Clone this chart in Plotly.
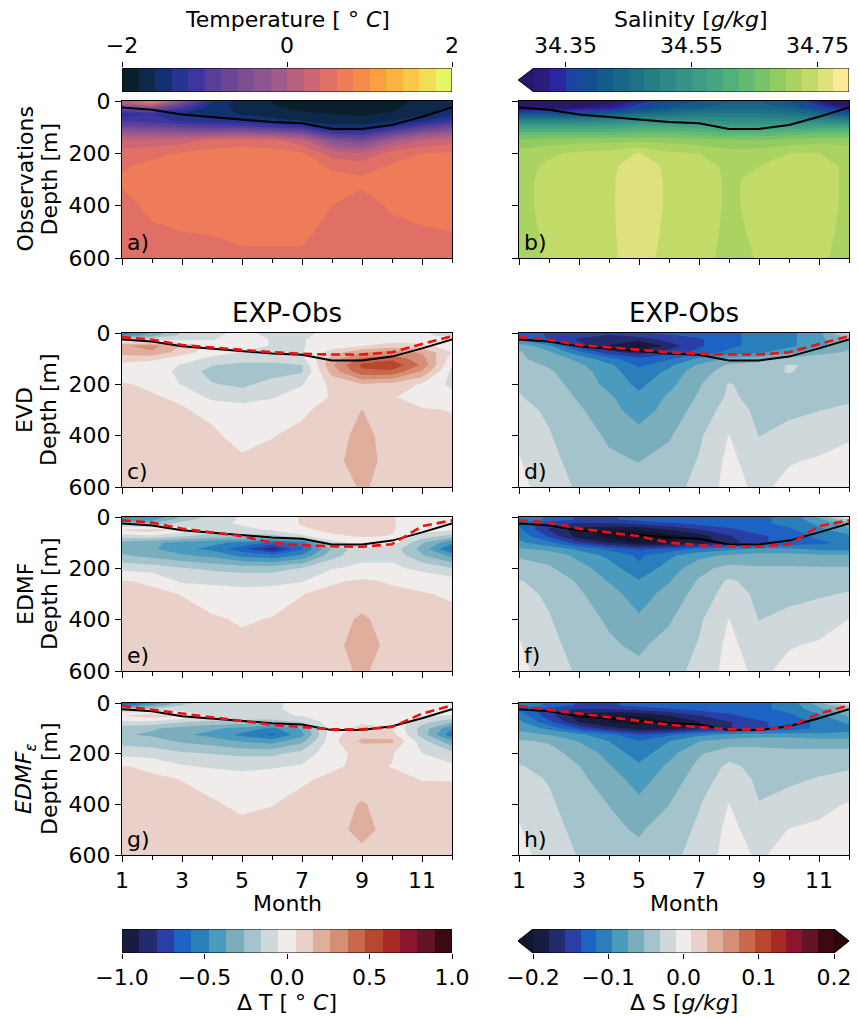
import numpy as np
import plotly.graph_objects as go

W, H = 858, 1018
FONT = "DejaVu Sans"

months = list(range(1, 13))
depths = [0, 10, 25, 50, 75, 100, 125, 150, 200, 250, 300, 400, 500, 600]

# mixed layer depth [m] per month
mld_obs = [25, 33, 52, 62, 72, 80, 85, 107, 107, 92, 60, 25]
mld_evd = [16, 26, 47, 57, 67, 75, 81, 84, 84, 75, 43, 12]
mld_edmf = [13, 22, 45, 60, 75, 100, 110, 114, 116, 106, 36, 13]
mld_edmfe = [12, 26, 42, 55, 71, 86, 95, 104, 104, 95, 42, 9]

# observed temperature [deg C], rows = depths, columns = months
temp_obs = [
    [0.05, 0.65, -0.45, -1.35, -1.68, -1.80, -1.85, -1.85, -1.85, -1.85, -1.75, -1.55],
    [0.00, 0.50, -0.65, -1.45, -1.70, -1.80, -1.85, -1.85, -1.85, -1.85, -1.75, -1.60],
    [-0.60, -0.40, -1.00, -1.50, -1.68, -1.78, -1.83, -1.85, -1.85, -1.83, -1.72, -1.60],
    [-1.30, -1.20, -1.40, -1.50, -1.62, -1.72, -1.78, -1.80, -1.82, -1.78, -1.62, -1.45],
    [-1.00, -1.10, -1.25, -1.35, -1.40, -1.50, -1.60, -1.72, -1.75, -1.62, -1.40, -1.15],
    [-0.60, -0.70, -0.80, -0.85, -0.90, -1.00, -1.15, -1.50, -1.50, -1.25, -0.90, -0.65],
    [-0.10, -0.15, -0.20, -0.20, -0.15, -0.25, -0.45, -1.00, -1.10, -0.70, -0.30, -0.10],
    [0.25, 0.25, 0.30, 0.45, 0.50, 0.45, 0.25, -0.40, -0.60, -0.10, 0.20, 0.30],
    [0.50, 0.55, 0.62, 0.68, 0.70, 0.68, 0.63, 0.30, 0.20, 0.50, 0.60, 0.63],
    [0.58, 0.65, 0.70, 0.74, 0.76, 0.75, 0.72, 0.57, 0.52, 0.63, 0.67, 0.70],
    [0.62, 0.70, 0.74, 0.77, 0.78, 0.77, 0.75, 0.66, 0.63, 0.68, 0.72, 0.74],
    [0.56, 0.63, 0.68, 0.71, 0.74, 0.73, 0.70, 0.60, 0.55, 0.62, 0.66, 0.68],
    [0.50, 0.58, 0.60, 0.61, 0.66, 0.65, 0.64, 0.54, 0.50, 0.56, 0.58, 0.60],
    [0.47, 0.52, 0.53, 0.54, 0.55, 0.56, 0.57, 0.50, 0.47, 0.50, 0.52, 0.53],
]

# observed salinity [g/kg]
salt_obs = [
    [34.20, 34.22, 34.25, 34.28, 34.33, 34.38, 34.40, 34.42, 34.42, 34.40, 34.32, 34.22],
    [34.22, 34.24, 34.27, 34.30, 34.35, 34.39, 34.41, 34.43, 34.43, 34.41, 34.34, 34.24],
    [34.28, 34.28, 34.30, 34.32, 34.37, 34.40, 34.42, 34.44, 34.44, 34.42, 34.37, 34.30],
    [34.40, 34.40, 34.40, 34.42, 34.45, 34.47, 34.48, 34.48, 34.48, 34.47, 34.44, 34.40],
    [34.50, 34.50, 34.50, 34.51, 34.52, 34.53, 34.53, 34.52, 34.52, 34.52, 34.51, 34.50],
    [34.58, 34.58, 34.58, 34.58, 34.60, 34.60, 34.59, 34.57, 34.57, 34.58, 34.59, 34.59],
    [34.64, 34.64, 34.64, 34.64, 34.65, 34.65, 34.64, 34.63, 34.63, 34.64, 34.65, 34.65],
    [34.68, 34.685, 34.69, 34.69, 34.695, 34.69, 34.685, 34.68, 34.675, 34.685, 34.69, 34.69],
    [34.71, 34.72, 34.73, 34.735, 34.752, 34.73, 34.725, 34.71, 34.715, 34.725, 34.725, 34.715],
    [34.715, 34.73, 34.74, 34.745, 34.762, 34.745, 34.735, 34.72, 34.725, 34.735, 34.735, 34.72],
    [34.715, 34.735, 34.74, 34.745, 34.768, 34.745, 34.735, 34.722, 34.73, 34.737, 34.735, 34.72],
    [34.715, 34.735, 34.74, 34.745, 34.77, 34.745, 34.735, 34.722, 34.73, 34.737, 34.735, 34.72],
    [34.712, 34.732, 34.74, 34.745, 34.766, 34.743, 34.733, 34.721, 34.728, 34.735, 34.733, 34.718],
    [34.71, 34.73, 34.738, 34.745, 34.762, 34.74, 34.731, 34.72, 34.726, 34.733, 34.73, 34.715],
]

# temperature bias EXP - Obs [deg C]
dT_evd = [
    [-0.55, -0.35, -0.15, -0.10, 0.00, -0.10, -0.10, 0.00, 0.00, 0.00, -0.03, -0.12],
    [-0.45, -0.30, -0.12, -0.08, 0.00, -0.08, -0.08, 0.00, 0.00, 0.00, -0.02, -0.10],
    [-0.10, -0.10, -0.08, -0.06, 0.00, -0.06, -0.06, 0.00, 0.00, 0.00, 0.00, 0.00],
    [0.25, 0.30, 0.15, 0.00, 0.00, -0.06, -0.06, 0.00, 0.05, 0.10, 0.08, 0.00],
    [0.20, 0.25, 0.10, 0.00, -0.06, -0.08, -0.06, 0.10, 0.25, 0.30, 0.25, 0.05],
    [0.10, 0.08, 0.00, -0.08, -0.10, -0.10, -0.08, 0.20, 0.40, 0.45, 0.30, 0.00],
    [0.02, 0.00, -0.06, -0.15, -0.20, -0.20, -0.16, 0.25, 0.50, 0.55, 0.35, -0.05],
    [0.00, 0.00, -0.08, -0.20, -0.22, -0.20, -0.17, 0.20, 0.45, 0.45, 0.25, -0.08],
    [0.06, 0.04, -0.06, -0.15, -0.18, -0.12, -0.06, 0.08, 0.15, 0.12, 0.04, -0.08],
    [0.07, 0.06, 0.04, -0.08, -0.10, -0.06, 0.00, 0.06, 0.08, 0.06, 0.02, -0.02],
    [0.08, 0.07, 0.06, 0.03, 0.00, 0.00, 0.04, 0.08, 0.16, 0.08, 0.06, 0.05],
    [0.09, 0.08, 0.07, 0.07, 0.02, 0.05, 0.07, 0.10, 0.20, 0.10, 0.08, 0.07],
    [0.10, 0.10, 0.09, 0.08, 0.07, 0.07, 0.09, 0.13, 0.20, 0.12, 0.10, 0.09],
    [0.10, 0.10, 0.10, 0.10, 0.10, 0.10, 0.10, 0.10, 0.17, 0.12, 0.10, 0.10],
]

dT_edmf = [
    [-0.50, -0.45, -0.25, -0.12, -0.04, 0.00, 0.06, 0.07, 0.07, 0.06, 0.00, 0.00],
    [-0.45, -0.40, -0.20, -0.10, -0.04, 0.00, 0.06, 0.07, 0.07, 0.06, 0.00, 0.00],
    [-0.20, -0.25, -0.12, -0.08, -0.04, 0.00, 0.06, 0.07, 0.07, 0.06, 0.00, 0.00],
    [0.06, 0.12, 0.02, -0.08, -0.08, -0.04, 0.04, 0.07, 0.08, 0.06, 0.00, -0.05],
    [-0.10, -0.08, -0.15, -0.20, -0.20, -0.20, -0.08, 0.04, 0.06, 0.05, -0.10, -0.20],
    [-0.30, -0.35, -0.40, -0.45, -0.50, -0.60, -0.55, -0.10, 0.00, 0.00, -0.25, -0.45],
    [-0.30, -0.35, -0.45, -0.50, -0.65, -0.85, -0.60, -0.25, -0.08, -0.10, -0.30, -0.60],
    [-0.25, -0.30, -0.35, -0.40, -0.50, -0.55, -0.45, -0.20, -0.08, -0.08, -0.25, -0.40],
    [-0.08, -0.10, -0.15, -0.18, -0.20, -0.20, -0.15, -0.06, -0.03, -0.03, -0.08, -0.15],
    [0.06, 0.04, -0.07, -0.07, -0.08, -0.08, -0.06, 0.04, 0.07, 0.04, 0.02, 0.00],
    [0.08, 0.07, 0.05, -0.01, -0.02, -0.01, 0.05, 0.08, 0.09, 0.08, 0.06, 0.04],
    [0.09, 0.09, 0.08, 0.07, 0.04, 0.06, 0.08, 0.10, 0.18, 0.10, 0.09, 0.08],
    [0.10, 0.10, 0.10, 0.09, 0.08, 0.09, 0.10, 0.13, 0.20, 0.13, 0.10, 0.10],
    [0.10, 0.10, 0.10, 0.10, 0.10, 0.10, 0.10, 0.13, 0.17, 0.12, 0.10, 0.10],
]

dT_edmfe = [
    [-0.70, -0.45, -0.20, -0.10, -0.06, -0.06, -0.04, 0.00, 0.00, 0.00, 0.00, 0.00],
    [-0.55, -0.35, -0.15, -0.08, -0.06, -0.06, -0.04, 0.00, 0.00, 0.00, 0.00, 0.00],
    [-0.15, -0.15, -0.10, -0.07, -0.06, -0.06, -0.04, 0.00, 0.00, 0.00, 0.00, 0.00],
    [0.05, 0.12, 0.06, -0.06, -0.08, -0.06, -0.05, 0.00, 0.02, 0.00, -0.04, -0.06],
    [-0.08, -0.08, -0.15, -0.18, -0.20, -0.22, -0.15, 0.00, 0.04, 0.02, -0.12, -0.25],
    [-0.22, -0.25, -0.30, -0.35, -0.40, -0.50, -0.35, 0.00, 0.08, 0.05, -0.20, -0.45],
    [-0.25, -0.28, -0.35, -0.40, -0.50, -0.60, -0.40, 0.02, 0.12, 0.10, -0.20, -0.55],
    [-0.20, -0.22, -0.28, -0.32, -0.38, -0.42, -0.30, 0.02, 0.18, 0.18, -0.12, -0.35],
    [-0.08, -0.10, -0.14, -0.16, -0.18, -0.18, -0.12, 0.02, 0.08, 0.06, -0.05, -0.12],
    [0.06, 0.03, -0.04, -0.07, -0.08, -0.07, -0.04, 0.04, 0.07, 0.05, 0.02, -0.03],
    [0.08, 0.07, 0.05, 0.03, -0.01, 0.02, 0.04, 0.07, 0.08, 0.07, 0.05, 0.05],
    [0.09, 0.09, 0.08, 0.06, 0.04, 0.05, 0.08, 0.10, 0.17, 0.10, 0.09, 0.08],
    [0.10, 0.10, 0.10, 0.09, 0.07, 0.08, 0.10, 0.12, 0.19, 0.12, 0.10, 0.10],
    [0.10, 0.10, 0.10, 0.10, 0.10, 0.10, 0.10, 0.11, 0.13, 0.11, 0.10, 0.10],
]

# salinity bias EXP - Obs [g/kg]
dS_evd = [
    [-0.12, -0.14, -0.15, -0.15, -0.14, -0.13, -0.12, -0.12, -0.11, -0.10, -0.08, -0.02],
    [-0.12, -0.14, -0.15, -0.16, -0.15, -0.14, -0.13, -0.12, -0.11, -0.10, -0.08, -0.04],
    [-0.10, -0.14, -0.16, -0.17, -0.17, -0.15, -0.14, -0.12, -0.11, -0.10, -0.08, -0.05],
    [-0.06, -0.09, -0.15, -0.18, -0.21, -0.17, -0.14, -0.12, -0.11, -0.10, -0.08, -0.06],
    [-0.05, -0.07, -0.11, -0.15, -0.17, -0.15, -0.13, -0.11, -0.10, -0.08, -0.06, -0.05],
    [-0.05, -0.06, -0.08, -0.11, -0.13, -0.12, -0.09, -0.07, -0.06, -0.05, -0.04, -0.05],
    [-0.045, -0.055, -0.07, -0.09, -0.12, -0.10, -0.07, -0.05, -0.045, -0.03, -0.035, -0.045],
    [-0.04, -0.05, -0.065, -0.085, -0.11, -0.09, -0.06, -0.045, -0.04, -0.03, -0.04, -0.045],
    [-0.035, -0.045, -0.06, -0.08, -0.10, -0.08, -0.055, -0.03, -0.04, -0.04, -0.04, -0.04],
    [-0.03, -0.04, -0.055, -0.07, -0.09, -0.07, -0.05, -0.028, -0.038, -0.04, -0.038, -0.035],
    [-0.025, -0.035, -0.05, -0.065, -0.085, -0.065, -0.045, -0.022, -0.036, -0.036, -0.032, -0.028],
    [-0.015, -0.03, -0.045, -0.055, -0.065, -0.055, -0.035, -0.01, -0.032, -0.025, -0.02, -0.012],
    [-0.009, -0.025, -0.04, -0.05, -0.053, -0.045, -0.03, -0.005, -0.022, -0.012, -0.008, -0.006],
    [-0.005, -0.02, -0.035, -0.045, -0.045, -0.04, -0.025, -0.003, -0.015, -0.005, -0.004, -0.004],
]

dS_edmf = [
    [-0.10, -0.12, -0.14, -0.14, -0.13, -0.12, -0.12, -0.12, -0.12, -0.11, -0.07, 0.01],
    [-0.10, -0.12, -0.14, -0.14, -0.13, -0.12, -0.12, -0.12, -0.12, -0.11, -0.08, -0.03],
    [-0.12, -0.15, -0.16, -0.16, -0.15, -0.14, -0.13, -0.13, -0.12, -0.11, -0.09, -0.06],
    [-0.11, -0.16, -0.19, -0.20, -0.20, -0.18, -0.16, -0.14, -0.13, -0.12, -0.10, -0.08],
    [-0.10, -0.14, -0.19, -0.21, -0.22, -0.21, -0.19, -0.16, -0.14, -0.13, -0.11, -0.10],
    [-0.09, -0.11, -0.15, -0.18, -0.20, -0.20, -0.19, -0.17, -0.14, -0.13, -0.12, -0.11],
    [-0.07, -0.08, -0.10, -0.12, -0.14, -0.13, -0.11, -0.10, -0.09, -0.09, -0.10, -0.10],
    [-0.055, -0.06, -0.08, -0.10, -0.12, -0.10, -0.08, -0.07, -0.065, -0.065, -0.07, -0.07],
    [-0.045, -0.05, -0.065, -0.085, -0.11, -0.085, -0.06, -0.045, -0.05, -0.05, -0.05, -0.05],
    [-0.03, -0.04, -0.055, -0.075, -0.093, -0.075, -0.05, -0.028, -0.04, -0.045, -0.042, -0.038],
    [-0.025, -0.035, -0.05, -0.065, -0.085, -0.065, -0.045, -0.022, -0.036, -0.038, -0.034, -0.03],
    [-0.015, -0.03, -0.045, -0.055, -0.07, -0.055, -0.035, -0.01, -0.032, -0.025, -0.02, -0.01],
    [-0.009, -0.025, -0.04, -0.05, -0.056, -0.045, -0.03, -0.005, -0.022, -0.012, -0.008, -0.006],
    [-0.005, -0.02, -0.035, -0.045, -0.048, -0.04, -0.025, -0.003, -0.015, -0.005, -0.004, -0.004],
]

dS_edmfe = [
    [-0.10, -0.12, -0.14, -0.14, -0.13, -0.12, -0.12, -0.12, -0.12, -0.11, -0.06, 0.01],
    [-0.10, -0.12, -0.14, -0.14, -0.13, -0.12, -0.12, -0.12, -0.12, -0.11, -0.07, -0.03],
    [-0.12, -0.15, -0.16, -0.16, -0.15, -0.14, -0.13, -0.13, -0.12, -0.11, -0.08, -0.05],
    [-0.10, -0.15, -0.19, -0.20, -0.20, -0.18, -0.16, -0.14, -0.13, -0.12, -0.10, -0.07],
    [-0.09, -0.13, -0.18, -0.20, -0.21, -0.20, -0.18, -0.16, -0.14, -0.13, -0.11, -0.09],
    [-0.08, -0.10, -0.14, -0.17, -0.19, -0.19, -0.17, -0.16, -0.14, -0.13, -0.11, -0.10],
    [-0.065, -0.075, -0.09, -0.11, -0.135, -0.12, -0.10, -0.09, -0.085, -0.085, -0.09, -0.09],
    [-0.05, -0.055, -0.075, -0.095, -0.115, -0.095, -0.075, -0.065, -0.06, -0.06, -0.065, -0.065],
    [-0.04, -0.045, -0.06, -0.08, -0.105, -0.08, -0.055, -0.04, -0.045, -0.048, -0.045, -0.045],
    [-0.03, -0.038, -0.052, -0.072, -0.09, -0.07, -0.048, -0.027, -0.038, -0.042, -0.038, -0.034],
    [-0.025, -0.033, -0.048, -0.063, -0.083, -0.063, -0.043, -0.021, -0.035, -0.036, -0.03, -0.026],
    [-0.015, -0.028, -0.043, -0.053, -0.068, -0.053, -0.033, -0.01, -0.031, -0.022, -0.016, -0.009],
    [-0.009, -0.023, -0.038, -0.048, -0.055, -0.043, -0.028, -0.005, -0.02, -0.01, -0.007, -0.005],
    [-0.005, -0.018, -0.033, -0.043, -0.047, -0.038, -0.023, -0.003, -0.013, -0.004, -0.003, -0.003],
]

# discrete palettes (one colour per filled band)
thermal = ["#0a1f2c", "#0d2849", "#133073", "#25348f", "#3f35a0", "#583f9a", "#6a4794",
           "#7c4f91", "#8e5590", "#a05b8d", "#b8607f", "#cc6675", "#e06f66", "#ee7c58",
           "#f68c4a", "#fa9f42", "#fbb33f", "#f9c84a", "#f2de55", "#e5f566"]
haline_under = "#29186a"
haline = ["#2d1c7e", "#2b27a2", "#1f43a0", "#134e92", "#145b8a", "#186788", "#1f7286",
          "#277d86", "#2e8887", "#359286", "#3c9c84", "#45a782", "#52b07b", "#62ba73",
          "#78c36a", "#92cb62", "#aad362", "#c2da68", "#dde27e", "#faea9a"]
balance = ["#181c43", "#232b6d", "#2a3fa6", "#1d63c4", "#2a7fbb", "#4b9bbf", "#7aaebd",
           "#a4c3cc", "#cfd9dc", "#f0eceb", "#e9d0c8", "#e0ae9d", "#d58f76", "#c8694d",
           "#b84730", "#a72a27", "#8b152f", "#631526", "#3c0911"]
balance_under = "#121531"
balance_over = "#2c060c"

SPEC_T = dict(start=-2.0, end=2.0, size=0.2, under=thermal[0], bands=thermal, over=thermal[-1])
SPEC_S = dict(start=34.30, end=34.80, size=0.025, under=haline_under, bands=haline, over=haline[-1])
SPEC_DT = dict(start=-1.0, end=1.0, size=2.0 / 19, under=balance[0], bands=balance, over=balance[-1])
SPEC_DS = dict(start=-0.2, end=0.2, size=0.4 / 19, under=balance_under, bands=balance, over=balance_over)


def n_levels(spec):
    return int(np.floor((spec["end"] + spec["size"] / 1e6 - spec["start"]) / spec["size"])) + 1


def fill_colorscale(spec):
    # plotly colours the region below the first level at 0 and band k at k/nc
    nc = n_levels(spec)
    cols = [spec["under"]] + list(spec["bands"]) + [spec["over"]]
    assert len(cols) == nc + 1, (len(cols), nc)
    return [[k / nc, c] for k, c in enumerate(cols)]


# page geometry in pixels
COLS = [(122, 452), (519, 849)]
ROWS = [(101, 258), (333, 487), (517, 671), (703, 855)]

panels = [
    (0, 0, temp_obs, SPEC_T, None, "a)"),
    (0, 1, salt_obs, SPEC_S, None, "b)"),
    (1, 0, dT_evd, SPEC_DT, mld_evd, "c)"),
    (1, 1, dS_evd, SPEC_DS, mld_evd, "d)"),
    (2, 0, dT_edmf, SPEC_DT, mld_edmf, "e)"),
    (2, 1, dS_edmf, SPEC_DS, mld_edmf, "f)"),
    (3, 0, dT_edmfe, SPEC_DT, mld_edmfe, "g)"),
    (3, 1, dS_edmfe, SPEC_DS, mld_edmfe, "h)"),
]

row_names = ["Observations", "EVD", "EDMF", "<i>EDMF<sub>ε</sub></i>"]


def ax_name(kind, i):
    return kind + ("axis" if i == 1 else f"axis{i}")


def ax_ref(kind, i):
    return kind if i == 1 else f"{kind}{i}"


fig = go.Figure()
layout = dict(
    width=W, height=H, margin=dict(l=0, r=0, t=0, b=0, autoexpand=False),
    paper_bgcolor="white", plot_bgcolor="white", showlegend=False,
    font=dict(family=FONT, size=22, color="black"),
)
annotations = []
shapes = []


def ann(text, xpx, ypx, size=22, angle=0, xanchor="center", yanchor="middle"):
    annotations.append(dict(
        text=text, x=xpx / W, y=1 - ypx / H, xref="paper", yref="paper",
        showarrow=False, textangle=angle, xanchor=xanchor, yanchor=yanchor,
        font=dict(family=FONT, size=size, color="black"),
    ))


for idx, (r, c, z, spec, mld_exp, letter) in enumerate(panels, start=1):
    x0, x1 = COLS[c]
    y0, y1 = ROWS[r]
    xr, yr = ax_ref("x", idx), ax_ref("y", idx)
    fig.add_trace(go.Contour(
        x=months, y=depths, z=z, xaxis=xr, yaxis=yr,
        autocontour=False,
        contours=dict(start=spec["start"], end=spec["end"], size=spec["size"],
                      coloring="fill", showlines=False),
        colorscale=fill_colorscale(spec), showscale=False,
        line=dict(width=0, smoothing=0), hoverinfo="skip",
    ))
    fig.add_trace(go.Scatter(
        x=months, y=mld_obs, xaxis=xr, yaxis=yr, mode="lines",
        line=dict(color="black", width=2), hoverinfo="skip",
    ))
    if mld_exp is not None:
        fig.add_trace(go.Scatter(
            x=months, y=mld_exp, xaxis=xr, yaxis=yr, mode="lines",
            line=dict(color="#ee1111", width=2.6, dash="9px,5px"), hoverinfo="skip",
        ))
    layout[ax_name("x", idx)] = dict(
        domain=[x0 / W, x1 / W], range=[1, 12], anchor=yr, automargin=False,
        tickvals=[1, 3, 5, 7, 9, 11], ticks="outside", ticklen=6, tickwidth=1,
        tickcolor="black", showticklabels=(r == 3), tickfont=dict(size=22),
        minor=dict(tickvals=[2, 4, 6, 8, 10, 12], ticks="outside", ticklen=3.5,
                   tickwidth=1, tickcolor="black", showgrid=False),
        showline=True, mirror=True, linecolor="black", linewidth=1,
        showgrid=False, zeroline=False, fixedrange=True,
    )
    layout[ax_name("y", idx)] = dict(
        domain=[1 - y1 / H, 1 - y0 / H], range=[600, 0], anchor=xr, automargin=False,
        tickvals=[0, 200, 400, 600], ticks="outside", ticklen=6, tickwidth=1,
        tickcolor="black", showticklabels=(c == 0), tickfont=dict(size=22),
        showline=True, mirror=True, linecolor="black", linewidth=1,
        showgrid=False, zeroline=False, fixedrange=True,
    )
    ann(letter, x0 + 3, y1 - 1, xanchor="left", yanchor="bottom")

# row labels on the left
for r, name in enumerate(row_names):
    ymid = (ROWS[r][0] + ROWS[r][1]) / 2
    ann(name, 25, ymid, angle=-90)
    ann("Depth [m]", 49, ymid, angle=-90)

for c in range(2):
    xmid = (COLS[c][0] + COLS[c][1]) / 2
    ann("EXP-Obs", xmid, 313, size=26)
    ann("Month", xmid, 903)


# colour bars drawn as heatmaps on their own axes
def colour_bar(i, spec, px_box, side, tickvals, ticktext, extend_lo=False, extend_hi=False):
    bx0, bx1, by0, by1 = px_box
    lo, hi = spec["start"], spec["end"]
    span = hi - lo
    ext = 0.05 * span
    rlo = lo - ext if extend_lo else lo
    rhi = hi + ext if extend_hi else hi
    scale = (bx1 - bx0) / span
    dx0 = bx0 - (lo - rlo) * scale
    dx1 = bx1 + (rhi - hi) * scale
    bands = spec["bands"]
    n = len(bands)
    edges = list(np.linspace(lo, hi, n + 1))
    xr, yr = ax_ref("x", i), ax_ref("y", i)
    fig.add_trace(go.Heatmap(
        x=edges, y=[0, 1], z=[list(range(n))], xaxis=xr, yaxis=yr,
        colorscale=[[k / (n - 1), col] for k, col in enumerate(bands)],
        zmin=0, zmax=n - 1, showscale=False, hoverinfo="skip",
    ))
    path = f"M{lo},0 L{hi},0 "
    if extend_hi:
        fig.add_trace(go.Scatter(
            x=[hi, rhi, hi, hi], y=[0, 0.5, 1, 0], xaxis=xr, yaxis=yr, mode="lines",
            fill="toself", fillcolor=spec["over"], line=dict(width=0.5, color=spec["over"]),
            hoverinfo="skip",
        ))
        path += f"L{rhi},0.5 "
    path += f"L{hi},1 L{lo},1 "
    if extend_lo:
        fig.add_trace(go.Scatter(
            x=[lo, rlo, lo, lo], y=[0, 0.5, 1, 0], xaxis=xr, yaxis=yr, mode="lines",
            fill="toself", fillcolor=spec["under"], line=dict(width=0.5, color=spec["under"]),
            hoverinfo="skip",
        ))
        path += f"L{rlo},0.5 "
    path += "Z"
    shapes.append(dict(type="path", path=path, xref=xr, yref=yr,
                       line=dict(color="black", width=1), fillcolor="rgba(0,0,0,0)"))
    layout[ax_name("x", i)] = dict(
        domain=[dx0 / W, dx1 / W], range=[rlo, rhi], anchor=yr, side=side, automargin=False,
        tickvals=tickvals, ticktext=ticktext, ticks="outside", ticklen=5, tickwidth=1,
        tickcolor="black", tickfont=dict(size=22), showline=False,
        showgrid=False, zeroline=False, fixedrange=True,
    )
    layout[ax_name("y", i)] = dict(
        domain=[1 - by1 / H, 1 - by0 / H], range=[0, 1], anchor=xr, automargin=False,
        visible=False, fixedrange=True,
    )


colour_bar(9, SPEC_T, (122, 452, 68, 92), "top", [-2, 0, 2], ["−2", "0", "2"])
colour_bar(10, SPEC_S, (534, 849, 68, 92), "top", [34.35, 34.55, 34.75],
           ["34.35", "34.55", "34.75"], extend_lo=True)
colour_bar(11, SPEC_DT, (122, 452, 929, 953), "bottom", [-1, -0.5, 0, 0.5, 1],
           ["−1.0", "−0.5", "0.0", "0.5", "1.0"])
colour_bar(12, SPEC_DS, (533, 834, 929, 953), "bottom", [-0.2, -0.1, 0, 0.1, 0.2],
           ["−0.2", "−0.1", "0.0", "0.1", "0.2"], extend_lo=True, extend_hi=True)

ann("Temperature [ ° <i>C</i>]", 287, 20)
ann("Salinity [<i>g/kg</i>]", 691, 20)
ann("Δ T [ ° <i>C</i>]", 287, 1002)
ann("Δ S [<i>g/kg</i>]", 684, 1002)

layout["annotations"] = annotations
layout["shapes"] = shapes
fig.update_layout(**layout)
fig.write_html("out.html")
